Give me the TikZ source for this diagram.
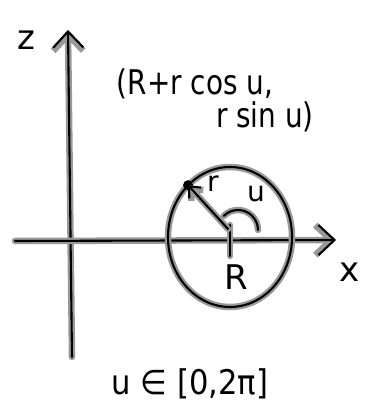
\documentclass[tikz,border=0pt]{standalone}
\usepackage{fontspec}
\setmainfont{DejaVu Sans}
\usetikzlibrary{arrows.meta,shapes.geometric}
\tikzset{
  hand/.style={draw=black, line width=2.1pt, line cap=round, line join=round,
    preaction={draw=black!40, line width=6.5pt, line cap=round, line join=round}},
  barb/.style={-{Straight Barb[length=16pt,width=30pt]}},
  lbl/.style={font=\fontsize{34}{36}\selectfont, inner sep=0pt},
  slbl/.style={font=\fontsize{28}{30}\selectfont, inner sep=0pt}
}
\begin{document}
\begin{tikzpicture}[x=1pt,y=-1pt]
\useasboundingbox (0,0) rectangle (365,415);
\coordinate (zb) at (72,357);
\coordinate (zt) at (68,30);
\coordinate (xl) at (15,241);
\coordinate (xr) at (336,240);
\coordinate (c) at (230,237);
\coordinate (tickt) at (230,225);
\coordinate (tickb) at (230,256);
\coordinate (arrs) at (228,229);
\coordinate (arcc) at (238,230);
\draw[hand,barb] (zb) -- (zt);
\draw[hand,barb] (xl) -- (xr);
\node[draw=none, ellipse, minimum width=124pt, minimum height=140pt, inner sep=0pt] (C) at (c) {};
\draw[hand] (C.center) ellipse [x radius=62pt, y radius=70pt];
\fill (C.129) circle (5pt) coordinate (P);
\draw[hand] (tickt) -- (tickb);
\draw[hand,-{Straight Barb[length=9pt,width=16pt]}] (arrs) -- (P);
\draw[hand] ([shift={(135:20pt)}]arcc) arc[start angle=135, end angle=0, radius=20pt];
\node[lbl] (zl) at (26,40) {z};
\node[lbl] (xlab) at (350,272) {x};
\node[slbl] (rl) at (213,184) {r};
\node[slbl] (ul) at (256,194) {u};
\node[lbl] (Rl) at (236,277) {R};
\node[lbl] (t1) at (195,84) {\scalebox{0.82}[1]{(R+r cos u,}};
\node[lbl] (t2) at (265,117) {\scalebox{0.82}[1]{r sin u)}};
\node[lbl] (t3) at (190,384) {\scalebox{0.9}[1]{u ∈ [0,2π]}};
\end{tikzpicture}
\end{document}
